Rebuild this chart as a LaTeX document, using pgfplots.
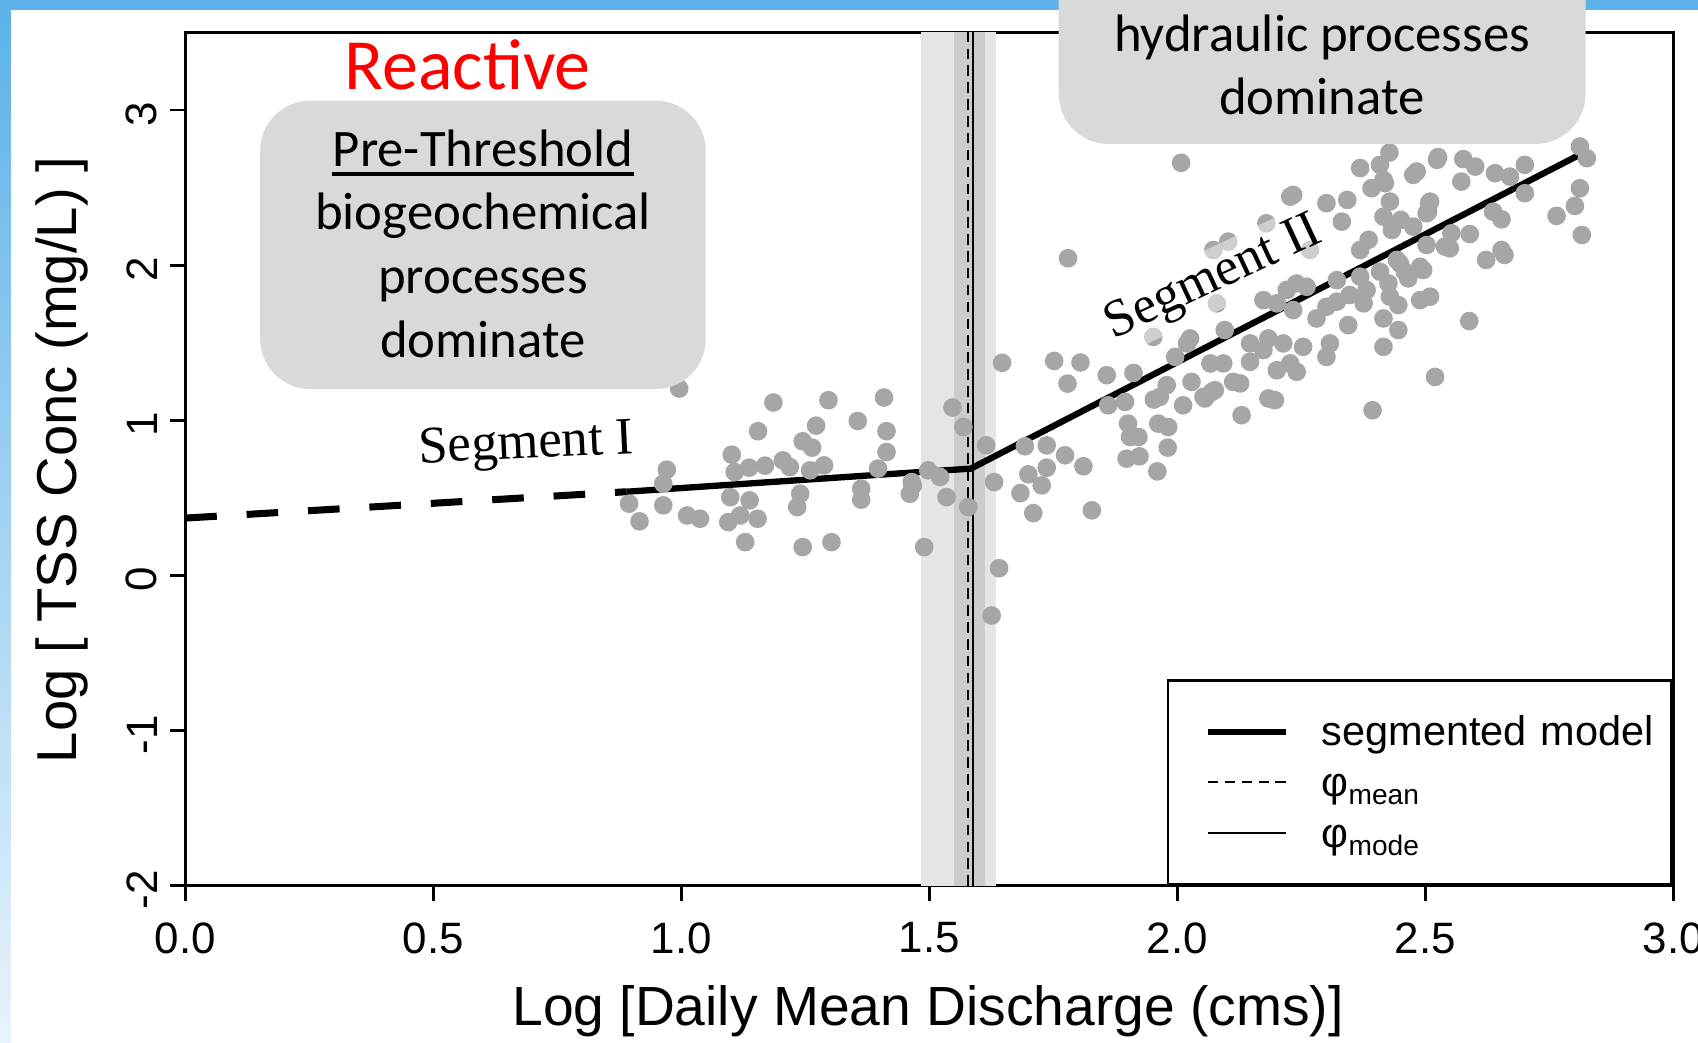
\documentclass[border=0pt]{standalone}
\usepackage{pgfplots}
\pgfplotsset{compat=1.18}
\usepackage{fontspec}
\setmainfont{Liberation Sans}
\newfontfamily\calfont{Carlito}
\newfontfamily\tnrfont{Liberation Serif}
\definecolor{ptgray}{RGB}{166,166,166}
\definecolor{bandlight}{RGB}{229,229,229}
\definecolor{banddark}{RGB}{204,204,204}
\definecolor{boxgray}{RGB}{217,217,217}
\definecolor{frameblue}{RGB}{93,178,234}
\definecolor{framelight}{RGB}{232,243,252}
\begin{document}
\begin{tikzpicture}
\useasboundingbox (0,0) rectangle (16.98,10.43);
\fill[white] (0,0) rectangle (16.98,10.43);
\fill[frameblue] (0,10.33) rectangle (16.98,10.43);
\shade[top color=frameblue, bottom color=framelight] (0,0) rectangle (0.108,10.33);
\begin{axis}[
  at={(1.852cm,1.572cm)}, anchor=south west,
  scale only axis, width=14.879cm, height=8.533cm,
  xmin=0, xmax=3, ymin=-2, ymax=3.5,
  axis line style={line width=0.8pt},
  xtick={0,0.5,1,1.5,2,2.5,3},
  xticklabels={0.0,0.5,1.0,1.5,2.0,2.5,3.0},
  ytick={-2,-1,0,1,2,3},
  yticklabels={-2,-1,0,1,2,3},
  xtick pos=bottom, ytick pos=left,
  tick align=outside, major tick length=0.155cm,
  tick style={line width=0.8pt, black},
  ticklabel style={font=\fontsize{12.5}{14}\selectfont},
  xticklabel style={yshift=-0.09cm},
  yticklabel style={rotate=90, anchor=south, xshift=-0.04cm},
  xlabel={Log [Daily Mean Discharge (cms)]},
  ylabel={Log [ TSS Conc (mg/L) ]},
  xlabel style={font=\fontsize{15.7}{18}\selectfont, at={(axis description cs:0.4992,-0.1468)}, anchor=center},
  ylabel style={font=\fontsize{16}{18}\selectfont, at={(axis description cs:-0.0828,0.499)}, anchor=center},
  legend cell align=left,
  legend image code/.code={\path (0cm,0cm); \draw[#1] (0.22cm,0.0cm) -- (1.0cm,0.0cm);},
  legend style={at={(axis cs:3,-2)}, anchor=south east, draw=black, line width=0.8pt, fill=white,
    inner xsep=0.15cm, inner ysep=0.25cm, row sep=-0.6pt, column sep=0.33cm,
    font=\fontsize{11.8}{14}\selectfont,
    nodes={text width=3.35cm, text height=10pt, text depth=2pt, inner xsep=0pt, inner ysep=1.5pt, align=left}},
]
% confidence bands of the breakpoint
\addplot[fill=bandlight, draw=none, forget plot] coordinates {(1.483,-2) (1.483,3.5) (1.635,3.5) (1.635,-2)};
\addplot[fill=banddark, draw=none, forget plot] coordinates {(1.551,-2) (1.551,3.5) (1.612,3.5) (1.612,-2)};
% observations
\addplot[only marks, mark=*, mark size=2.45pt, color=ptgray, forget plot] coordinates {
(0.996,1.205)(1.186,1.115)(1.297,1.130)(1.409,1.147)(1.155,0.930)(1.272,0.966)(1.356,0.996)(1.414,0.930)
(1.414,0.796)(1.245,0.865)(1.264,0.824)(1.102,0.779)(0.971,0.682)(1.137,0.695)(1.169,0.708)(1.205,0.742)
(1.219,0.699)(1.288,0.710)(1.108,0.667)(1.260,0.678)(1.397,0.689)(0.964,0.592)(0.895,0.463)(0.964,0.452)
(0.916,0.349)(1.012,0.387)(1.038,0.366)(1.099,0.505)(1.138,0.484)(1.095,0.344)(1.119,0.387)(1.154,0.366)
(1.240,0.527)(1.234,0.441)(1.363,0.560)(1.363,0.489)(1.461,0.527)(1.129,0.215)(1.245,0.183)(1.303,0.215)
(1.467,0.580)(1.490,0.183)
(1.647,1.371)(1.752,1.383)(1.805,1.373)(1.779,1.237)(1.858,1.291)(1.912,1.306)(2.020,1.496)(1.979,1.227)
(1.953,1.134)(2.012,1.097)(2.029,1.248)(2.053,1.151)(2.070,1.183)(2.067,1.367)(1.895,1.119)(1.861,1.097)
(1.901,0.979)(1.905,0.893)(1.922,0.893)(1.962,0.979)(1.982,0.957)(1.981,0.824)(1.898,0.753)(1.924,0.768)
(1.960,0.671)(1.737,0.839)(1.693,0.833)(1.774,0.775)(1.811,0.704)(1.737,0.695)(1.700,0.652)(1.727,0.581)
(1.684,0.531)(1.710,0.402)(1.828,0.420)(1.631,0.602)(1.615,0.839)(1.547,1.083)(1.569,0.957)(1.498,0.678)
(1.522,0.635)(1.465,0.602)(1.535,0.505)(1.579,0.441)(1.641,0.047)(1.626,-0.258)(1.952,1.538)
(2.008,2.660)(1.780,2.045)
(2.369,2.626)(2.409,2.647)(2.428,2.726)(2.483,2.604)(2.524,2.679)(2.392,2.496)(2.419,2.529)(2.429,2.410)
(2.416,2.313)(2.451,2.292)(2.508,2.400)(2.503,2.335)(2.343,2.421)(2.386,2.164)(2.540,2.120)(2.443,2.034)
(2.490,1.990)(2.466,1.915)(2.409,1.958)(2.369,1.926)(2.322,1.904)(2.348,1.808)(2.382,1.840)(2.429,1.797)
(2.446,1.743)(2.376,1.754)(2.416,1.657)(2.446,1.582)(2.345,1.614)(2.281,1.657)(2.261,1.861)(2.221,1.840)
(2.234,1.711)(2.301,1.732)(2.308,1.496)(2.301,1.409)(2.254,1.474)(2.228,1.367)(2.214,1.496)(2.174,1.453)
(2.184,1.528)(2.147,1.496)(2.201,1.323)(2.241,1.313)(2.147,1.377)(2.127,1.238)(2.113,1.248)(2.076,1.194)
(2.056,1.141)(2.026,1.528)(1.996,1.409)(1.965,1.151)(2.184,1.141)(2.197,1.130)(2.130,1.033)(2.096,1.582)
(2.093,1.367)(2.416,1.474)(2.520,1.280)(2.394,1.065)(2.322,1.765)(2.240,1.883)(2.201,1.754)(2.174,1.775)
(2.369,2.098)(2.510,1.797)(2.490,1.775)
(2.228,2.442)(2.332,2.281)(2.301,2.400)(2.180,2.270)(2.103,2.152)(2.073,2.098)(2.080,1.754)(2.268,2.098)
(2.234,2.453)
(2.526,2.697)(2.577,2.684)(2.601,2.636)(2.476,2.582)(2.573,2.539)(2.641,2.593)(2.671,2.571)(2.701,2.647)
(2.701,2.464)(2.812,2.765)(2.826,2.690)(2.812,2.496)(2.802,2.382)(2.765,2.318)(2.816,2.195)(2.416,2.550)
(2.510,2.410)(2.506,2.345)(2.476,2.249)(2.637,2.345)(2.654,2.296)(2.590,2.201)(2.553,2.206)(2.550,2.109)
(2.503,2.130)(2.654,2.098)(2.660,2.066)(2.623,2.034)(2.449,2.012)(2.459,1.958)(2.496,1.969)(2.426,1.883)
(2.589,1.640)(2.433,2.227)
};
% breakpoint estimates
\addplot[black, line width=0.6pt, dash pattern=on 3pt off 1.8pt, forget plot] coordinates {(1.579,-2) (1.579,3.5)};
\addplot[black, line width=0.6pt, forget plot] coordinates {(1.588,-2) (1.588,3.5)};
% segmented model
\addplot[black, line width=2pt, dash pattern=on 9pt off 8.5pt, forget plot] coordinates {(0,0.37) (0.89,0.54)};
\addplot[black, line width=1.8pt, forget plot] coordinates {(0.89,0.54) (1.584,0.689) (2.82,2.726)};
\addlegendimage{black, line width=1.6pt}
\addlegendentry{segmented model}
\addlegendimage{black, line width=0.6pt, dash pattern=on 3pt off 1.8pt}
\addlegendentry{φ\raisebox{-0.37ex}{\fontsize{8}{8}\selectfont mean}}
\addlegendimage{black, line width=0.6pt}
\addlegendentry{φ\raisebox{-0.37ex}{\fontsize{8}{8}\selectfont mode}}
\end{axis}
% annotation boxes
\fill[boxgray, rounded corners=0.5cm] (2.602,6.54) rectangle (7.057,9.423);
\node[anchor=base, inner sep=0pt, font=\calfont\fontsize{15}{18}\selectfont] (pt) at (4.83,8.763) {Pre-Threshold};
\draw[line width=0.9pt] ([yshift=-0.073cm]pt.base west) -- ([yshift=-0.073cm]pt.base east);
\node[anchor=base, font=\calfont\fontsize{15}{18}\selectfont] at (4.83,8.13) {biogeochemical};
\node[anchor=base, font=\calfont\fontsize{15}{18}\selectfont] at (4.83,7.497) {processes};
\node[anchor=base, font=\calfont\fontsize{15}{18}\selectfont] at (4.83,6.853) {dominate};
\node[anchor=base, text=red, font=\calfont\fontsize{20.5}{24}\selectfont] at (4.675,9.537) {Reactive};
\fill[boxgray, rounded corners=0.5cm] (10.587,8.99) rectangle (15.855,11.5);
\node[anchor=base, font=\calfont\fontsize{15}{18}\selectfont] at (13.22,9.913) {hydraulic processes};
\node[anchor=base, font=\calfont\fontsize{15}{18}\selectfont] at (13.22,9.28) {dominate};
% segment labels
\node[anchor=base, rotate=2.7, font=\tnrfont\fontsize{15}{18}\selectfont] at (5.27,5.847) {Segment I};
\node[anchor=base, rotate=25, inner sep=2pt, fill=white, fill opacity=0.45, text opacity=1, font=\tnrfont\fontsize{15}{18}\selectfont] at (12.19,7.53) {Segment II};
\end{tikzpicture}
\end{document}
